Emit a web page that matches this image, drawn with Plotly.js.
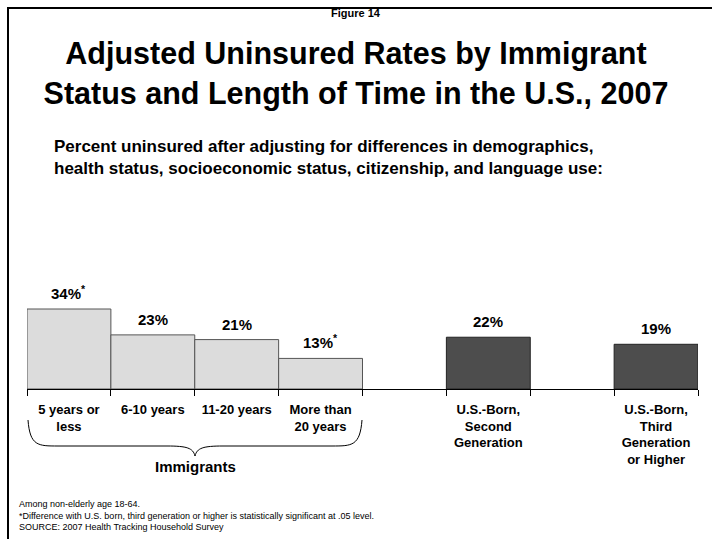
<!DOCTYPE html>
<html>
<head>
<meta charset="utf-8">
<script src="https://cdn.plot.ly/plotly-3.0.1.min.js"></script>
<style>
  html, body { margin: 0; padding: 0; background: #fff; }
  #chart { width: 712px; height: 539px; }
</style>
</head>
<body>
<div id="chart"></div>
<script>
// ---- data ----
const categories = [
  '5 years or<br>less',
  '6-10 years',
  '11-20 years',
  'More than<br>20 years',
  ' ',
  'U.S.-Born,<br>Second<br>Generation',
  '  ',
  'U.S.-Born,<br>Third<br>Generation<br>or Higher'
];
const values = [34, 23, 21, 13, null, 22, null, 19];
const significant = [true, false, false, true, false, false, false, false];
const groups = ['imm', 'imm', 'imm', 'imm', '', 'born', '', 'born'];

const FONT = 'Liberation Sans, Arial, sans-serif';
const fillColors = groups.map(g => g === 'imm' ? '#dcdcdc' : '#4d4d4d');
const lineColors = groups.map(g => g === 'imm' ? '#555555' : '#222222');

// plot area geometry (pixels)
const W = 712, H = 539;
const L = 27, R = 14, T = 200, B = 150;
const plotW = W - L - R, plotH = H - T - B;
const px = x => (x - L) / plotW;
const py = y => (H - B - y) / plotH;

const trace = {
  type: 'bar',
  x: categories,
  y: values,
  marker: { color: fillColors, line: { color: lineColors, width: 1 } },
  width: 1,
  hoverinfo: 'skip',
  cliponaxis: false
};

const valueLabels = categories.map((c, i) => values[i] == null ? null : {
  x: c, y: values[i], xref: 'x', yref: 'y',
  text: values[i] + '%' + (significant[i] ? '<sup>*</sup>' : ''),
  showarrow: false, yanchor: 'bottom', yshift: 5,
  font: { family: FONT, size: 15, color: '#000', weight: 'bold' }
}).filter(a => a);

// curly brace under the immigrant categories
const bx0 = 28, bx1 = 362, bxm = (bx0 + bx1) / 2;
const yTop = 420, yMid = 446, yTip = 456;
const bracePath =
  `M ${px(bx0)},${py(yTop)} ` +
  `C ${px(bx0 + 2)},${py(yMid)} ${px(bx0 + 10)},${py(yMid)} ${px(bx0 + 30)},${py(yMid)} ` +
  `L ${px(bxm - 28)},${py(yMid)} ` +
  `C ${px(bxm - 8)},${py(yMid)} ${px(bxm - 2)},${py(yMid + 2)} ${px(bxm)},${py(yTip)} ` +
  `C ${px(bxm + 2)},${py(yMid + 2)} ${px(bxm + 8)},${py(yMid)} ${px(bxm + 28)},${py(yMid)} ` +
  `L ${px(bx1 - 30)},${py(yMid)} ` +
  `C ${px(bx1 - 10)},${py(yMid)} ${px(bx1 - 2)},${py(yMid)} ${px(bx1)},${py(yTop)}`;

const layout = {
  width: W, height: H,
  margin: { l: L, r: R, t: T, b: B },
  paper_bgcolor: '#fff', plot_bgcolor: '#fff',
  showlegend: false,
  bargap: 0,
  title: {
    text: 'Adjusted Uninsured Rates by Immigrant<br>Status and Length of Time in the U.S., 2007',
    font: { family: FONT, size: 30.5, color: '#000', weight: 'bold' },
    x: 0.5, xanchor: 'center',
    y: 1 - 64 / H, yanchor: 'top', yref: 'container'
  },
  xaxis: {
    type: 'category',
    categoryorder: 'array', categoryarray: categories,
    showline: true, linecolor: '#000', linewidth: 1,
    ticks: 'outside', tickson: 'boundaries', ticklen: 6, tickcolor: '#000', tickwidth: 1,
    ticklabelstandoff: 8,
    showgrid: false, zeroline: false,
    tickfont: { family: FONT, size: 13, color: '#000', weight: 'bold' },
    fixedrange: true
  },
  yaxis: {
    range: [0, plotH / 2.353],
    visible: false, showgrid: false, zeroline: false, fixedrange: true
  },
  shapes: [
    { type: 'line', xref: 'paper', yref: 'paper',
      x0: px(8), x1: px(712), y0: py(8), y1: py(8),
      line: { color: '#000', width: 2 } },
    { type: 'line', xref: 'paper', yref: 'paper',
      x0: px(8), x1: px(8), y0: py(7), y1: py(539),
      line: { color: '#000', width: 2 } },
    { type: 'path', xref: 'paper', yref: 'paper', path: bracePath,
      line: { color: '#000', width: 1 } }
  ],
  annotations: [
    { text: 'Figure 14', xref: 'paper', yref: 'paper', x: px(356), y: py(13),
      showarrow: false, xanchor: 'center', yanchor: 'middle',
      font: { family: FONT, size: 11, color: '#000', weight: 'bold' } },
    { text: 'Percent uninsured after adjusting for differences in demographics,<br>health status, socioeconomic status, citizenship, and language use:',
      xref: 'paper', yref: 'paper', x: px(52), y: py(135),
      showarrow: false, xanchor: 'left', yanchor: 'top', align: 'left',
      font: { family: FONT, size: 17, color: '#000', weight: 'bold' } },
    { text: 'Immigrants', xref: 'paper', yref: 'paper', x: px(bxm), y: py(466),
      showarrow: false, xanchor: 'center', yanchor: 'middle',
      font: { family: FONT, size: 15, color: '#000', weight: 'bold' } },
    { text: 'Among non-elderly age 18-64.<br>*Difference with U.S. born, third generation or higher is statistically significant at .05 level.<br>SOURCE: 2007 Health Tracking Household Survey',
      xref: 'paper', yref: 'paper', x: px(17), y: py(497),
      showarrow: false, xanchor: 'left', yanchor: 'top', align: 'left',
      font: { family: FONT, size: 9, color: '#000' } }
  ].concat(valueLabels)
};

Plotly.newPlot('chart', [trace], layout, { displayModeBar: false, staticPlot: true });
</script>
</body>
</html>
